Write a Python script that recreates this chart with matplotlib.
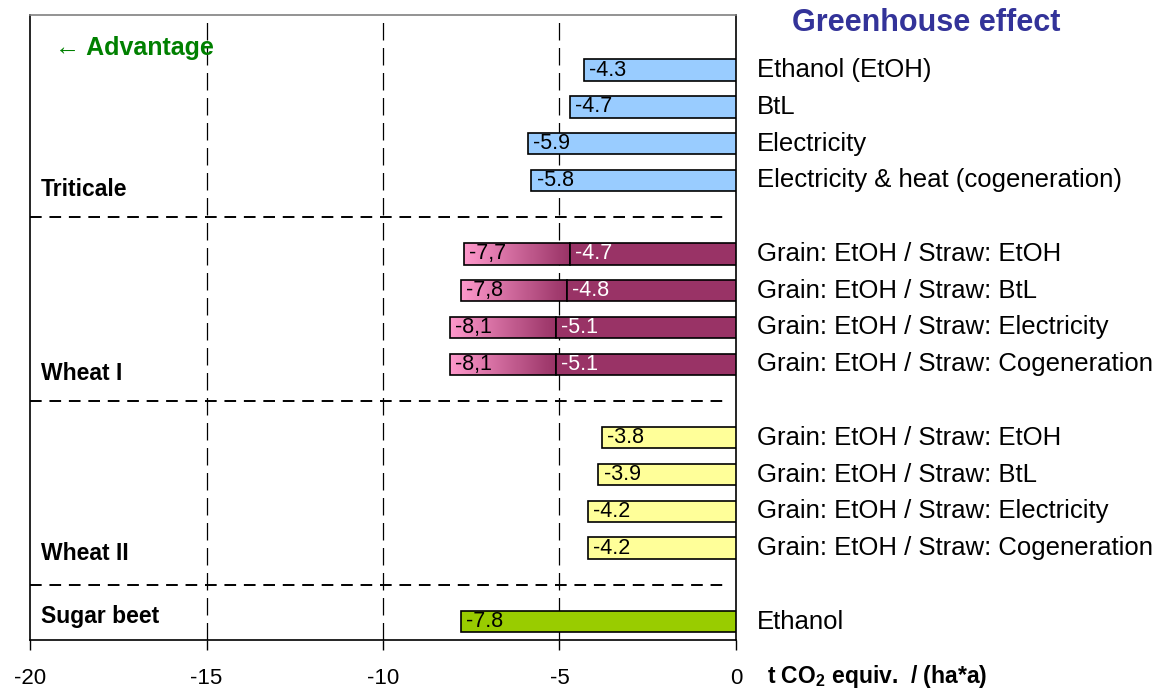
import matplotlib
matplotlib.use("Agg")
import matplotlib.pyplot as plt
import numpy as np
from matplotlib.colors import LinearSegmentedColormap

plt.rcParams["font.family"] = ["Liberation Sans", "DejaVu Sans"]
plt.rcParams["mathtext.fontset"] = "custom"
plt.rcParams["mathtext.rm"] = "Liberation Sans"
plt.rcParams["mathtext.bf"] = "Liberation Sans:bold"

# ---------------------------------------------------------------------------
# Data (t CO2 equiv. per ha and year)
# ---------------------------------------------------------------------------
triticale_labels = ["Ethanol (EtOH)", "BtL", "Electricity",
                    "Electricity & heat (cogeneration)"]
triticale_values = [-4.3, -4.7, -5.9, -5.8]

wheat_labels = ["Grain: EtOH / Straw: EtOH", "Grain: EtOH / Straw: BtL",
                "Grain: EtOH / Straw: Electricity",
                "Grain: EtOH / Straw: Cogeneration"]
wheat1_total = [-7.7, -7.8, -8.1, -8.1]
wheat1_total_text = ["-7,7", "-7,8", "-8,1", "-8,1"]
wheat1_straw = [-4.7, -4.8, -5.1, -5.1]

wheat2_values = [-3.8, -3.9, -4.2, -4.2]

sugar_labels = ["Ethanol"]
sugar_values = [-7.8]

groups = ["Triticale", "Wheat I", "Wheat II", "Sugar beet"]

# ---------------------------------------------------------------------------
# Layout
# ---------------------------------------------------------------------------
rows_tri = [0, 1, 2, 3]
rows_w1 = [5, 6, 7, 8]
rows_w2 = [10, 11, 12, 13]
rows_sb = [15]
separators = [4, 9, 14]
group_rows = [3.25, 8.25, 13.15, 14.85]
bar_h = 0.58

BLUE = "#99CCFF"
PLUM = "#993366"
PINK = "#FF99CC"
YELLOW = "#FFFF99"
LIME = "#99CC00"

fig = plt.figure(figsize=(11.68, 6.91), dpi=100)
ax = fig.add_axes([0.0257, 0.0738, 0.6044, 0.9045])

ax.set_xlim(-20, 0)
ax.set_ylim(15.5, -1.5)

for x in (-15, -10, -5):
    ax.axvline(x, color="black", lw=0.9, dashes=(14, 6), zorder=0)

for s in separators:
    ax.plot([-20, -0.3], [s, s], color="black", lw=1.4, dashes=(6, 4), zorder=1)


def simple_bars(rows, values, color, texts=None):
    ax.barh(rows, values, height=bar_h, color=color, edgecolor="black",
            linewidth=1.2, zorder=3)
    for i, (r, v) in enumerate(zip(rows, values)):
        t = texts[i] if texts else f"{v:.1f}"
        ax.text(v + 0.15, r, t, ha="left", va="center", fontsize=15.5,
                color="black", zorder=5)


simple_bars(rows_tri, triticale_values, BLUE)
simple_bars(rows_w2, wheat2_values, YELLOW)
simple_bars(rows_sb, sugar_values, LIME)

# Wheat I: gradient part (grain) plus solid straw part
grad = LinearSegmentedColormap.from_list("pinkplum", [PINK, PLUM])
gradient = np.linspace(0, 1, 256).reshape(1, -1)
for r, tot, straw, ttxt in zip(rows_w1, wheat1_total, wheat1_straw,
                               wheat1_total_text):
    outer = ax.barh(r, straw - tot, left=tot, height=bar_h, facecolor="none",
                    edgecolor="black", linewidth=1.2, zorder=4)[0]
    im = ax.imshow(gradient, cmap=grad, aspect="auto", zorder=3,
                   extent=[tot, straw, r + bar_h / 2, r - bar_h / 2])
    im.set_clip_path(outer)
    ax.barh(r, straw, height=bar_h, color=PLUM, edgecolor="black",
            linewidth=1.2, zorder=4)
    ax.text(tot + 0.15, r, ttxt, ha="left", va="center", fontsize=15.5,
            color="black", zorder=5)
    ax.text(straw + 0.15, r, f"{straw:.1f}", ha="left", va="center",
            fontsize=15.5, color="white", zorder=5)

ax.set_xlim(-20, 0)
ax.set_ylim(15.5, -1.5)

# right-hand row labels
all_rows = rows_tri + rows_w1 + rows_w2 + rows_sb
all_labels = triticale_labels + wheat_labels + wheat_labels + sugar_labels
for r, lab in zip(all_rows, all_labels):
    ax.text(0.6, r, lab, ha="left", va="center", fontsize=18.5,
            color="black", clip_on=False)

for r, g in zip(group_rows, groups):
    ax.text(-19.7, r, g, ha="left", va="center", fontsize=16.5,
            fontweight="bold", color="black")

ax.text(-19.3, -0.6, "\u2190 Advantage", ha="left", va="center", fontsize=18,
        fontweight="bold", color="#008000")

fig.text(0.793, 0.966, "Greenhouse effect", ha="center", va="center",
         fontsize=22, fontweight="bold", color="#333399")

# axes styling
ax.set_xticks([-20, -15, -10, -5, 0])
ax.set_xticklabels(["-20", "-15", "-10", "-5", "0"])
ax.tick_params(axis="x", direction="out", length=7, width=1, labelsize=16,
               pad=13)
ax.set_yticks([])
for side in ("left", "bottom", "right"):
    ax.spines[side].set_color("black")
    ax.spines[side].set_linewidth(1.2)
ax.spines["top"].set_color("#808080")
ax.spines["top"].set_linewidth(1.2)

fig.text(0.657, 0.021, r"t CO$_\mathbf{2}$ equiv.  / (ha*a)", ha="left",
         va="center", fontsize=16.5, fontweight="bold")

fig.savefig("out.png", dpi=100)
